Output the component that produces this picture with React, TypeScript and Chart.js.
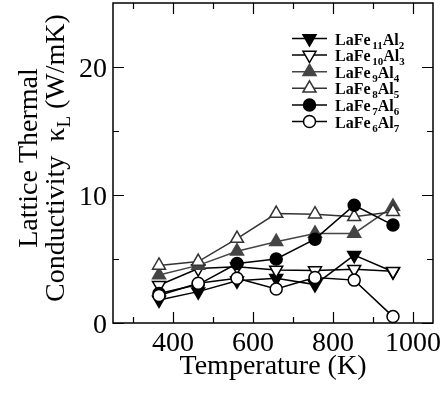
import React, { useEffect, useRef } from 'react';
import { Chart, registerables } from 'chart.js';

Chart.register(...registerables);

// ---- data ----
const temperatures = [365, 463, 560, 658, 755, 853, 950];
const kLaFe11Al2 = [1.8, 2.45, 3.3, 3.5, 3.0, 5.3, 4.0];
const kLaFe10Al3 = [2.95, 4.25, 4.4, 4.15, 4.1, 4.2, 4.05];
const kLaFe9Al4 = [3.75, 4.5, 5.6, 6.35, 7.0, 7.0, 9.1];
const kLaFe8Al5 = [4.5, 4.8, 6.6, 8.55, 8.5, 8.3, 8.7];
const kLaFe7Al6 = [2.3, 3.0, 4.65, 5.0, 6.55, 9.2, 7.65];
const kLaFe6Al7 = [2.15, 3.1, 3.5, 2.65, 3.55, 3.35, 0.5];

// formula parts: [Fe subscript, Al subscript]
const seriesSubs = [
  ['11', '2'],
  ['10', '3'],
  ['9', '4'],
  ['8', '5'],
  ['7', '6'],
  ['6', '7'],
];

const xTicks = [300, 400, 500, 600, 700, 800, 900, 1000];
const xLabeled = [400, 600, 800, 1000];
const yTicks = [0, 5, 10, 15, 20];
const yLabeled = [0, 10, 20];

const FONT = "'Liberation Serif', 'Times New Roman', serif";

type Part = { t: string; font: string; dy: number };

function richWidth(ctx: CanvasRenderingContext2D, parts: Part[]) {
  let w = 0;
  for (const p of parts) {
    ctx.font = p.font;
    w += ctx.measureText(p.t).width;
  }
  return w;
}
function drawRich(ctx: CanvasRenderingContext2D, parts: Part[], x: number, y: number) {
  let cx = x;
  for (const p of parts) {
    ctx.font = p.font;
    ctx.fillText(p.t, cx, y + p.dy);
    cx += ctx.measureText(p.t).width;
  }
}

function drawMarker(ctx: CanvasRenderingContext2D, style: string, rot: number, r: number, x: number, y: number, fill: string, stroke: string, lw: number) {
  ctx.save();
  ctx.beginPath();
  if (style === 'circle') {
    ctx.arc(x, y, r, 0, Math.PI * 2);
  } else {
    const rad0 = (rot * Math.PI) / 180;
    for (let i = 0; i < 3; i++) {
      const a = rad0 + (i * 2 * Math.PI) / 3;
      const px = x + Math.sin(a) * r;
      const py = y - Math.cos(a) * r;
      if (i === 0) ctx.moveTo(px, py);
      else ctx.lineTo(px, py);
    }
    ctx.closePath();
  }
  ctx.fillStyle = fill;
  ctx.fill();
  ctx.lineWidth = lw;
  ctx.strokeStyle = stroke;
  ctx.stroke();
  ctx.restore();
}

const decorPlugin = {
  id: 'decor',
  afterDatasetsDraw(chart: any) {
    const { ctx, chartArea: a, scales } = chart;
    const x = scales.x;
    const y = scales.y;
    ctx.save();
    ctx.strokeStyle = '#000';
    ctx.lineWidth = 1.5;
    ctx.strokeRect(a.left, a.top, a.right - a.left, a.bottom - a.top);
    ctx.beginPath();
    for (const v of xTicks) {
      const px = Math.round(x.getPixelForValue(v)) + 0.5;
      const L = xLabeled.includes(v) ? 11 : 6;
      ctx.moveTo(px, a.bottom);
      ctx.lineTo(px, a.bottom - L);
      ctx.moveTo(px, a.top);
      ctx.lineTo(px, a.top + L);
    }
    for (const v of yTicks) {
      const py = Math.round(y.getPixelForValue(v)) + 0.5;
      const L = yLabeled.includes(v) ? 11 : 6;
      ctx.moveTo(a.left, py);
      ctx.lineTo(a.left + L, py);
      ctx.moveTo(a.right, py);
      ctx.lineTo(a.right - L, py);
    }
    ctx.lineWidth = 1.2;
    ctx.stroke();
    ctx.restore();
  },
  afterDraw(chart: any) {
    const { ctx, chartArea: a, scales } = chart;
    const x = scales.x;
    const y = scales.y;
    ctx.save();
    ctx.fillStyle = '#000';
    ctx.textBaseline = 'alphabetic';

    // tick labels
    ctx.font = `28px ${FONT}`;
    ctx.textAlign = 'center';
    for (const v of xLabeled) {
      ctx.fillText(String(v), x.getPixelForValue(v), 351);
    }
    ctx.textAlign = 'right';
    for (const v of yLabeled) {
      ctx.fillText(String(v), a.left - 6, y.getPixelForValue(v) + 9.5);
    }
    ctx.textAlign = 'left';

    // x title
    const xt: Part[] = [{ t: 'Temperature (K)', font: `28px ${FONT}`, dy: 0 }];
    const xw = richWidth(ctx, xt);
    drawRich(ctx, xt, (a.left + a.right) / 2 - xw / 2, 374);

    // y title (rotated)
    ctx.save();
    ctx.translate(0, 158);
    ctx.rotate(-Math.PI / 2);
    const l1: Part[] = [{ t: 'Lattice Thermal', font: `28px ${FONT}`, dy: 0 }];
    const l2: Part[] = [
      { t: 'Conductivity  \u03BA', font: `28px ${FONT}`, dy: 0 },
      { t: 'L', font: `19px ${FONT}`, dy: 6 },
      { t: ' (W/mK)', font: `28px ${FONT}`, dy: 0 },
    ];
    drawRich(ctx, l1, -richWidth(ctx, l1) / 2, 37);
    drawRich(ctx, l2, -richWidth(ctx, l2) / 2, 64);
    ctx.restore();

    // legend
    const ds = chart.data.datasets;
    for (let i = 0; i < ds.length; i++) {
      const d = ds[i];
      const cy = 38.5 + i * 16.6;
      ctx.beginPath();
      ctx.moveTo(292, cy);
      ctx.lineTo(327, cy);
      ctx.strokeStyle = d.borderColor;
      ctx.lineWidth = d.borderWidth;
      ctx.stroke();
      drawMarker(ctx, d.pointStyle, d.rotation || 0, d.pointRadius, 309.5, cy, d.pointBackgroundColor, d.pointBorderColor, d.pointBorderWidth);
      const [s1, s2] = seriesSubs[i];
      const parts: Part[] = [
        { t: 'LaFe', font: `bold 16px ${FONT}`, dy: 0 },
        { t: ' ', font: `bold 7px ${FONT}`, dy: 0 },
        { t: s1, font: `bold 11px ${FONT}`, dy: 4 },
        { t: 'Al', font: `bold 16px ${FONT}`, dy: 0 },
        { t: s2, font: `bold 11px ${FONT}`, dy: 4 },
      ];
      ctx.fillStyle = '#000';
      drawRich(ctx, parts, 335, cy + 6);
    }
    ctx.restore();
  },
};

function mk(label: string, data: number[], style: string, rot: number, r: number, fill: string, stroke: string, lineColor: string, order: number) {
  return {
    label,
    data: temperatures.map((t, i) => ({ x: t, y: data[i] })),
    borderColor: lineColor,
    borderWidth: 1.5,
    pointStyle: style,
    rotation: rot,
    pointRadius: r,
    pointHoverRadius: r,
    pointBackgroundColor: fill,
    pointBorderColor: stroke,
    pointBorderWidth: 1.5,
    showLine: true,
    fill: false,
    tension: 0,
    order,
    clip: false,
  };
}

export default function App() {
  const ref = useRef<HTMLCanvasElement>(null);
  useEffect(() => {
    document.body.style.margin = '0';
    const chart = new Chart(ref.current!, {
      type: 'scatter',
      data: {
        datasets: [
          mk('LaFe11Al2', kLaFe11Al2, 'triangle', 180, 7.5, '#000', '#000', '#000', 6),
          mk('LaFe10Al3', kLaFe10Al3, 'triangle', 180, 7.5, '#fff', '#000', '#000', 5),
          mk('LaFe9Al4', kLaFe9Al4, 'triangle', 0, 7.5, '#444', '#444', '#444', 4),
          mk('LaFe8Al5', kLaFe8Al5, 'triangle', 0, 7.5, '#fff', '#333', '#333', 3),
          mk('LaFe7Al6', kLaFe7Al6, 'circle', 0, 6, '#000', '#000', '#000', 2),
          mk('LaFe6Al7', kLaFe6Al7, 'circle', 0, 6, '#fff', '#000', '#000', 1),
        ] as any,
      },
      options: {
        animation: false,
        responsive: true,
        maintainAspectRatio: false,
        layout: { autoPadding: false, padding: { top: 3, right: 14, left: 0, bottom: 0 } },
        plugins: { legend: { display: false }, tooltip: { enabled: false }, title: { display: false } },
        scales: {
          x: {
            type: 'linear',
            min: 250,
            max: 1050,
            grid: { display: false, drawTicks: false },
            border: { display: false },
            ticks: { display: false },
            afterFit: (s: any) => {
              s.height = 75;
            },
          },
          y: {
            type: 'linear',
            min: 0,
            max: 25,
            grid: { display: false, drawTicks: false },
            border: { display: false },
            ticks: { display: false },
            afterFit: (s: any) => {
              s.width = 113;
            },
          },
        },
      } as any,
      plugins: [decorPlugin],
    });
    return () => chart.destroy();
  }, []);
  return (
    <div style={{ width: 447, height: 398, position: 'relative' }}>
      <canvas ref={ref} />
    </div>
  );
}
